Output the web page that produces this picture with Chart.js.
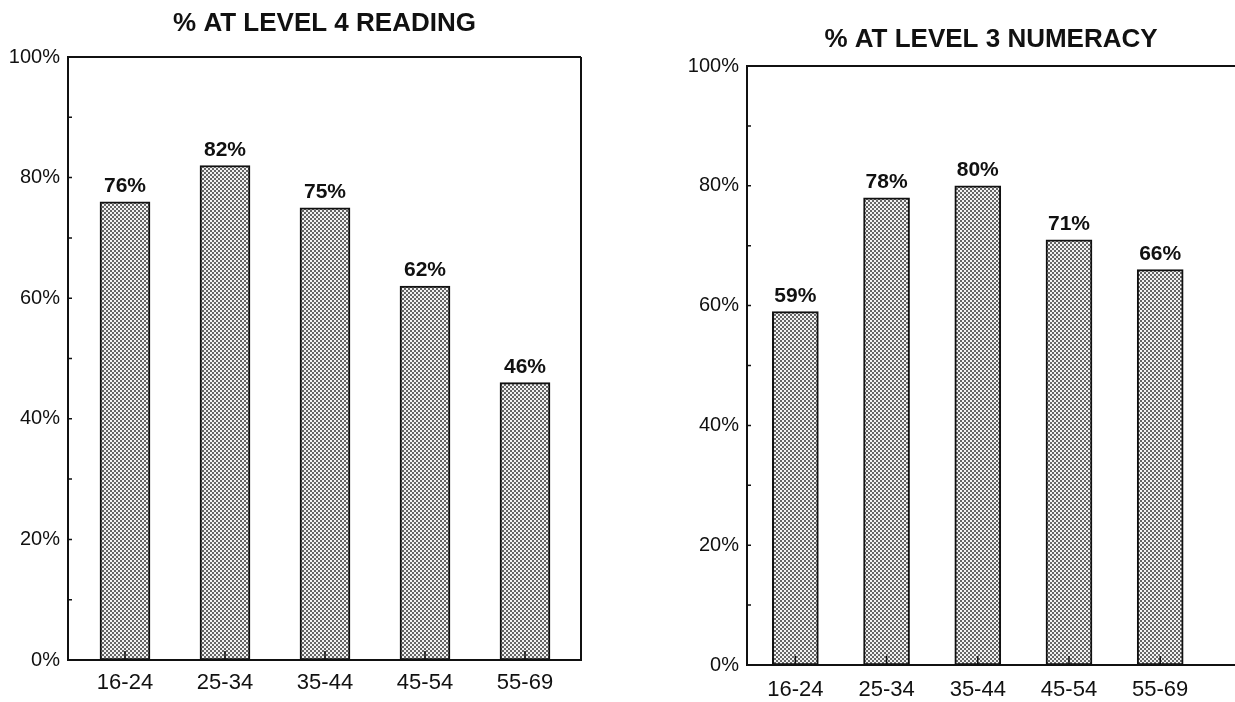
<!DOCTYPE html>
<html>
<head>
<meta charset="utf-8">
<script src="https://cdn.jsdelivr.net/npm/chart.js@4/dist/chart.umd.min.js"></script>
<style>
  body { margin: 0; background: #fff; }
  #wrap { position: relative; width: 1235px; height: 702px; overflow: hidden; }
  #readingBox { position: absolute; left: 0; top: 0; width: 620px; height: 702px; }
  #numeracyBox { position: absolute; left: 620px; top: 0; width: 615px; height: 702px; }
</style>
</head>
<body>
<div id="wrap">
  <div id="readingBox"><canvas id="readingChart" width="620" height="702"></canvas></div>
  <div id="numeracyBox"><canvas id="numeracyChart" width="615" height="702"></canvas></div>
</div>
<script>
const ageGroups = ["16-24", "25-34", "35-44", "45-54", "55-69"];
const readingPct = [76, 82, 75, 62, 46];
const numeracyPct = [59, 78, 80, 71, 66];
const yTicks = [0, 20, 40, 60, 80, 100];
const readingTitle = "% AT LEVEL 4 READING";
const numeracyTitle = "% AT LEVEL 3 NUMERACY";

const FONT = "'Liberation Sans', Arial, Helvetica, sans-serif";
const INK = "#111";

// dotted grey fill like the old printed bars
function makeDots() {
    var c = document.createElement('canvas');
    c.width = 4;
    c.height = 4;
    var g = c.getContext('2d');
    g.fillStyle = "#f2f2f2";
    g.fillRect(0, 0, 4, 4);
    g.fillStyle = "#666";
    g.fillRect(0, 0, 2, 2);
    g.fillRect(2, 2, 2, 2);
    return g.createPattern(c, 'repeat');
}

// frame, minor ticks, value labels and the title
const decorations = {
    id: 'decorations',
    afterDatasetsDraw(chart, args, opts) {
        const ctx = chart.ctx;
        const a = chart.chartArea;
        const xs = chart.scales.x;
        const ys = chart.scales.y;
        ctx.save();
        ctx.strokeStyle = INK;
        ctx.lineWidth = 2;
        ctx.beginPath();
        ctx.moveTo(a.right, a.top);
        ctx.lineTo(a.left, a.top);
        ctx.lineTo(a.left, a.bottom);
        ctx.lineTo(a.right, a.bottom);
        if (opts.closed) ctx.lineTo(a.right, a.top);
        ctx.stroke();

        ctx.lineWidth = 1.5;
        ctx.beginPath();
        for (var v = 10; v < 100; v += 10) {
            var py = ys.getPixelForValue(v);
            ctx.moveTo(a.left, py);
            ctx.lineTo(a.left + 4, py);
        }
        for (var i = 0; i < ageGroups.length; i++) {
            var px = xs.getPixelForValue(i);
            ctx.moveTo(px, a.bottom);
            ctx.lineTo(px, a.bottom - 9);
        }
        ctx.stroke();

        ctx.fillStyle = INK;
        ctx.font = "bold 21px " + FONT;
        ctx.textAlign = 'center';
        ctx.textBaseline = 'bottom';
        const meta = chart.getDatasetMeta(0);
        const values = chart.data.datasets[0].data;
        meta.data.forEach(function (bar, idx) {
            ctx.fillText(values[idx].y + "%", bar.x, bar.y - 5);
        });

        ctx.font = "bold 26px " + FONT;
        ctx.textBaseline = 'middle';
        ctx.fillText(opts.text, (a.left + a.right) / 2, opts.y);
        ctx.restore();
    }
};

function CreateChart(canvasId, values, cfg) {
    var ctx = document.getElementById(canvasId);
    return new Chart(ctx, {
        type: 'bar',
        data: {
            datasets: [
                {
                    label: cfg.title,
                    data: values.map(function (v, i) { return { x: i, y: v }; }),
                    backgroundColor: makeDots(),
                    borderColor: INK,
                    borderWidth: 2,
                    borderSkipped: false,
                    barThickness: cfg.barWidth,
                }
            ]
        },
        options: {
            responsive: false,
            animation: false,
            layout: {
                padding: { top: cfg.top, right: cfg.right, bottom: 0, left: 0 }
            },
            plugins: {
                legend: { display: false },
                tooltip: { enabled: false },
                decorations: { text: cfg.title, y: cfg.titleY, closed: cfg.closed }
            },
            scales: {
                x: {
                    type: 'linear',
                    offset: false,
                    min: cfg.xMin,
                    max: cfg.xMax,
                    grid: { display: false, drawTicks: false },
                    border: { display: false },
                    ticks: {
                        stepSize: 1,
                        autoSkip: false,
                        maxRotation: 0,
                        padding: cfg.labelPad,
                        color: INK,
                        font: { family: FONT, size: 22 },
                        callback: function (v) { return ageGroups[v]; }
                    },
                    afterBuildTicks: function (axis) {
                        axis.ticks = ageGroups.map(function (g, i) { return { value: i }; });
                    },
                    afterFit: function (axis) { axis.height = cfg.xHeight; }
                },
                y: {
                    min: 0,
                    max: 100,
                    grid: { display: false, drawTicks: false },
                    border: { display: false },
                    afterBuildTicks: function (axis) {
                        axis.ticks = yTicks.map(function (v) { return { value: v }; });
                    },
                    ticks: {
                        padding: 8,
                        color: INK,
                        font: { family: FONT, size: 20 },
                        callback: function (v) { return v + "%"; }
                    },
                    afterFit: function (axis) { axis.width = cfg.yWidth; }
                }
            }
        },
        plugins: [decorations]
    });
}

CreateChart('readingChart', readingPct, {
    title: readingTitle, titleY: 24, top: 57, right: 39, closed: true,
    xMin: -0.57, xMax: 4.56, barWidth: 50, xHeight: 42, yWidth: 68, labelPad: 10
});
CreateChart('numeracyChart', numeracyPct, {
    title: numeracyTitle, titleY: 40, top: 66, right: 0, closed: false,
    xMin: -0.53, xMax: 4.82, barWidth: 46, xHeight: 37, yWidth: 127, labelPad: 12
});
</script>
</body>
</html>
